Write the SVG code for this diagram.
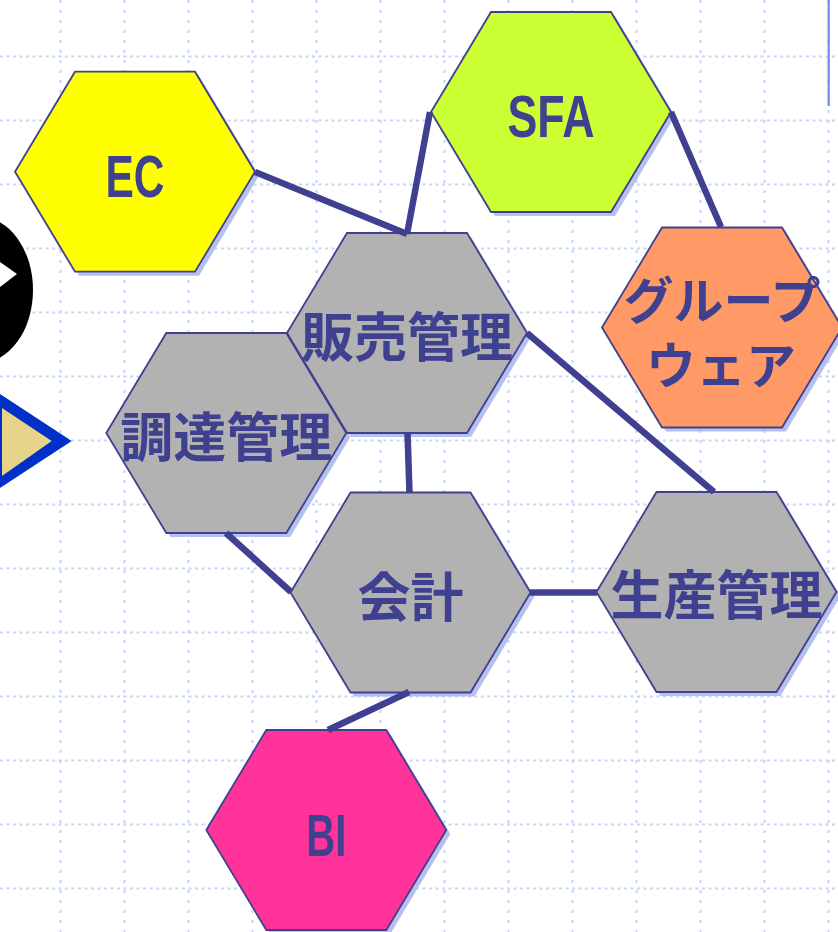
<svg xmlns="http://www.w3.org/2000/svg" width="838" height="932" viewBox="0 0 838 932">
<style>
.gh{stroke:#c6d4f8;stroke-width:2;stroke-dasharray:3 3.5;fill:none}
.gv{stroke:#c6d4f8;stroke-width:2;stroke-dasharray:3 7;fill:none}
.sh{fill:#b6c0ee;stroke:none}
.hx{stroke:#404090;stroke-width:1.8;stroke-linejoin:miter}
.jp{font-family:"Noto Sans CJK JP","Noto Sans",sans-serif;font-weight:bold;fill:#404090;text-anchor:middle}
.en{font-family:"Liberation Sans","DejaVu Sans",sans-serif;font-weight:bold;fill:#404090;text-anchor:middle;font-size:60px}
.cn{stroke:#404090;stroke-width:6.5;fill:none;stroke-linecap:butt}
</style>
<defs>
<polygon id="hex" points="-120,0 -60,-100 60,-100 120,0 60,100 -60,100"/>
</defs>
<rect width="838" height="932" fill="#ffffff"/>
<g id="grid">
<path class="gh" d="M0 56.5H838M0 120.5H838M0 184.5H838M0 248.5H838M0 312.5H838M0 376.5H838M0 440.5H838M0 504.5H838M0 568.5H838M0 632.5H838M0 696.5H838M0 760.5H838M0 824.5H838M0 888.5H838"/>
<path class="gv" d="M60.5 0V932M124.5 0V932M188.5 0V932M252.5 0V932M316.5 0V932M380.5 0V932M444.5 0V932M508.5 0V932M572.5 0V932M636.5 0V932M700.5 0V932M764.5 0V932M828.5 0V932"/>
</g>
<line x1="828.7" y1="0" x2="828.7" y2="106" stroke="#6c8cf0" stroke-width="2.2"/>
<g id="left-deco">
<ellipse cx="-20" cy="290" rx="53" ry="73" fill="#000000"/>
<polygon points="0,262 17,274 0,287" fill="#ffffff"/>
<polygon points="-20,380.9 71.7,441 -20,501.1" fill="#0030c8"/>
<polygon points="2,408 51.7,441 2,476" fill="#e8d488"/>
</g>
<g id="node-EC" transform="translate(135,171.7)">
<use href="#hex" class="sh" x="4" y="4"/>
<use href="#hex" class="hx" fill="#ffff00"/>
<text class="en" x="0" y="25" textLength="59" lengthAdjust="spacingAndGlyphs">EC</text>
</g>
<g id="node-SFA" transform="translate(551,112)">
<use href="#hex" class="sh" x="4" y="4"/>
<use href="#hex" class="hx" fill="#ccff33"/>
<text class="en" x="0" y="24.7" textLength="87" lengthAdjust="spacingAndGlyphs">SFA</text>
</g>
<g id="node-groupware" transform="translate(722,327.5)">
<use href="#hex" class="sh" x="4" y="4"/>
<use href="#hex" class="hx" fill="#ff9966"/>
<text class="jp" x="0" y="-9" font-size="50">グループ</text>
<text class="jp" x="-1" y="56" font-size="50">ウェア</text>
</g>
<g id="node-chotatsu" transform="translate(226.3,433)">
<use href="#hex" class="sh" x="4" y="4"/>
<use href="#hex" class="hx" fill="#b2b2b2"/>
<text class="jp" x="0" y="24" font-size="53">調達管理</text>
</g>
<g id="node-hanbai" transform="translate(407,333)">
<use href="#hex" class="sh" x="4" y="4"/>
<use href="#hex" class="hx" fill="#b2b2b2"/>
<text class="jp" x="0" y="24" font-size="53">販売管理</text>
</g>
<g id="node-kaikei" transform="translate(410.5,592.5)">
<use href="#hex" class="sh" x="4" y="4"/>
<use href="#hex" class="hx" fill="#b2b2b2"/>
<text class="jp" x="0" y="24" font-size="53">会計</text>
</g>
<g id="node-seisan" transform="translate(716.5,592)">
<use href="#hex" class="sh" x="4" y="4"/>
<use href="#hex" class="hx" fill="#b2b2b2"/>
<text class="jp" x="0" y="23" font-size="53">生産管理</text>
</g>
<g id="node-BI" transform="translate(326.3,830)">
<use href="#hex" class="sh" x="4" y="4"/>
<use href="#hex" class="hx" fill="#ff3399"/>
<text class="en" x="0" y="26" textLength="40" lengthAdjust="spacingAndGlyphs">BI</text>
</g>
<g id="connectors">
<line class="cn" x1="255" y1="172" x2="407" y2="234"/>
<line class="cn" x1="407" y1="234" x2="430" y2="112"/>
<line class="cn" x1="671" y1="112" x2="721" y2="227"/>
<line class="cn" x1="527" y1="333" x2="714" y2="492"/>
<line class="cn" x1="407.5" y1="433" x2="409.5" y2="493"/>
<line class="cn" x1="226" y1="533" x2="291" y2="592"/>
<line class="cn" x1="530" y1="592.5" x2="597" y2="592.5"/>
<line class="cn" x1="409" y1="692" x2="328" y2="730"/>
</g>
</svg>
